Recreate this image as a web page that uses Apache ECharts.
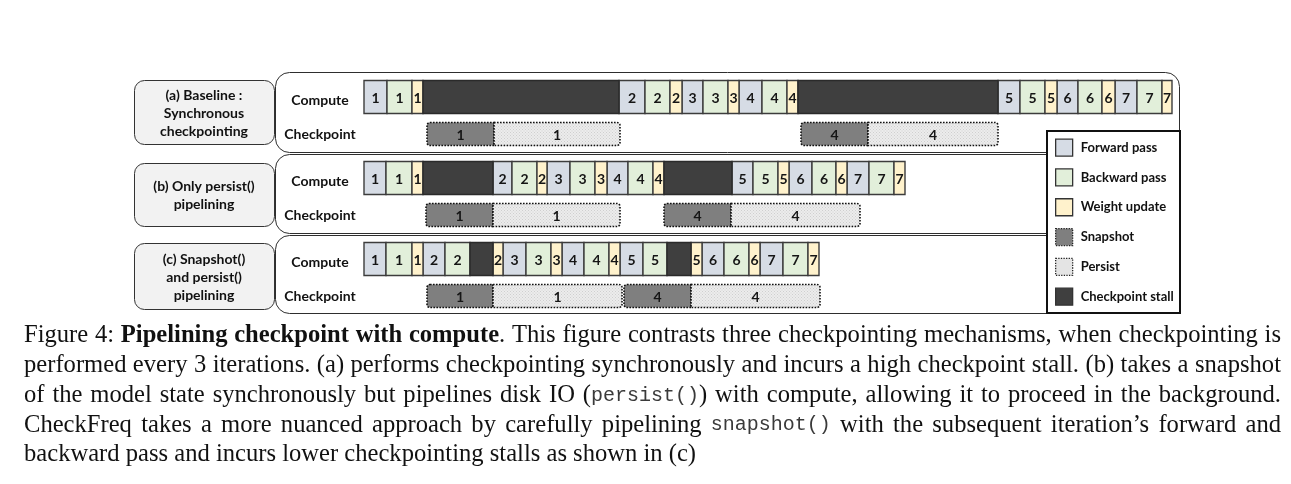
<!DOCTYPE html>
<html>
<head>
<meta charset="utf-8">
<script src="https://cdn.jsdelivr.net/npm/echarts@6/dist/echarts.min.js"></script>
<style>
html,body{margin:0;padding:0;background:#fff}
#container{width:1291px;height:484px}
</style>
</head>
<body>
<div id="container"></div>
<script>
var rowNames = ['Compute', 'Checkpoint'];
var kindOrder = ['F', 'B', 'W', 'S', 'P', 'X'];
var kindNames = {F: 'Forward pass', B: 'Backward pass', W: 'Weight update', S: 'Snapshot', P: 'Persist', X: 'Checkpoint stall'};
var panelTitles = ['(a) Baseline :\nSynchronous\ncheckpointing', '(b) Only persist()\npipelining', '(c) Snapshot()\nand persist()\npipelining'];

// [start, end, kind, iteration]  time units, 0 = start of iteration 1
var baselineCompute = [
    [0, 23, 'F', 1], [23, 48, 'B', 1], [48, 59, 'W', 1], [59, 255, 'X', 0],
    [255, 281, 'F', 2], [281, 306, 'B', 2], [306, 318, 'W', 2],
    [318, 339, 'F', 3], [339, 364, 'B', 3], [364, 375, 'W', 3],
    [375, 398, 'F', 4], [398, 423, 'B', 4], [423, 434, 'W', 4], [434, 634, 'X', 0],
    [634, 656, 'F', 5], [656, 681, 'B', 5], [681, 693, 'W', 5],
    [693, 714, 'F', 6], [714, 738, 'B', 6], [738, 751, 'W', 6],
    [751, 773, 'F', 7], [773, 798, 'B', 7], [798, 808, 'W', 7]
];
var baselineCheckpoint = [[63, 130, 'S', 1], [130, 256, 'P', 1], [437, 504, 'S', 4], [504, 634, 'P', 4]];

var persistCompute = [
    [0, 22, 'F', 1], [22, 48, 'B', 1], [48, 59, 'W', 1], [59, 129, 'X', 0],
    [129, 148, 'F', 2], [148, 173, 'B', 2], [173, 183, 'W', 2],
    [183, 206, 'F', 3], [206, 231, 'B', 3], [231, 243, 'W', 3],
    [243, 264, 'F', 4], [264, 289, 'B', 4], [289, 300, 'W', 4], [300, 368, 'X', 0],
    [368, 389, 'F', 5], [389, 414, 'B', 5], [414, 425, 'W', 5],
    [425, 448, 'F', 6], [448, 472, 'B', 6], [472, 483, 'W', 6],
    [483, 505, 'F', 7], [505, 530, 'B', 7], [530, 541, 'W', 7]
];
var persistCheckpoint = [[62, 129, 'S', 1], [129, 256, 'P', 1], [300, 367, 'S', 4], [367, 496, 'P', 4]];

var snapshotCompute = [
    [0, 22, 'F', 1], [22, 48, 'B', 1], [48, 59, 'W', 1],
    [59, 81, 'F', 2], [81, 106, 'B', 2], [106, 129, 'X', 0], [129, 139, 'W', 2],
    [139, 162, 'F', 3], [162, 187, 'B', 3], [187, 198, 'W', 3],
    [198, 220, 'F', 4], [220, 245, 'B', 4], [245, 256, 'W', 4],
    [256, 279, 'F', 5], [279, 303, 'B', 5], [303, 327, 'X', 0], [327, 338, 'W', 5],
    [338, 360, 'F', 6], [360, 385, 'B', 6], [385, 396, 'W', 6],
    [396, 419, 'F', 7], [419, 444, 'B', 7], [444, 455, 'W', 7]
];
var snapshotCheckpoint = [[63, 129, 'S', 1], [129, 258, 'P', 1], [260, 327, 'S', 4], [327, 456, 'P', 4]];

var captionLines = [
    [['Figure 4: ', 'n'], ['Pipelining checkpoint with compute', 'b'], ['. This figure contrasts three checkpointing mechanisms, when checkpointing is', 'n']],
    [['performed every 3 iterations. (a) performs checkpointing synchronously and incurs a high checkpoint stall. (b) takes a snapshot', 'n']],
    [['of the model state synchronously but pipelines disk IO (', 'n'], ['persist()', 'm'], [') with compute, allowing it to proceed in the background.', 'n']],
    [['CheckFreq takes a more nuanced approach by carefully pipelining ', 'n'], ['snapshot()', 'm'], [' with the subsequent iteration\u2019s forward and', 'n']],
    [['backward pass and incurs lower checkpointing stalls as shown in (c)', 'n']]
];

var panels = [
    {compute: baselineCompute, checkpoint: baselineCheckpoint},
    {compute: persistCompute, checkpoint: persistCheckpoint},
    {compute: snapshotCompute, checkpoint: snapshotCheckpoint}
];

// light dotted texture for the persist boxes
var dotCanvas = document.createElement('canvas');
dotCanvas.width = 3; dotCanvas.height = 3;
var dctx = dotCanvas.getContext('2d');
dctx.fillStyle = '#ececec'; dctx.fillRect(0, 0, 3, 3);
dctx.fillStyle = '#cfcfcf'; dctx.fillRect(0, 0, 1, 1); dctx.fillRect(1.5, 1.5, 1, 1);

var kindStyle = {
    F: {fill: '#d6dce5', stroke: '#3c3c3c', lineWidth: 1.4},
    B: {fill: '#e2efda', stroke: '#3c3c3c', lineWidth: 1.4},
    W: {fill: '#fff2cc', stroke: '#3c3c3c', lineWidth: 1.4},
    X: {fill: '#3f3f3f', stroke: '#2a2a2a', lineWidth: 1.4},
    S: {fill: '#7f7f7f', stroke: '#111', lineWidth: 1.6, lineDash: [1.6, 1.4]},
    P: {fill: {image: dotCanvas, repeat: 'repeat'}, stroke: '#111', lineWidth: 1.6, lineDash: [1.6, 1.4]}
};
var legendFill = {F: '#d6dce5', B: '#e2efda', W: '#fff2cc', S: '#7f7f7f', P: '#e4e4e4', X: '#3f3f3f'};

var gridTops = [78.5, 159.5, 240.5];

function makeRender(kind) {
    return function (params, api) {
        var row = api.value(0);
        var a = api.coord([api.value(1), row]);
        var b = api.coord([api.value(2), row]);
        var h = row === 0 ? 33 : 23;
        var st = kindStyle[kind];
        var r = kind === 'S' ? [3, 0, 0, 3] : (kind === 'P' ? [0, 3, 3, 0] : 0);
        var children = [{
            type: 'rect',
            shape: {x: a[0], y: a[1] - h / 2, width: b[0] - a[0], height: h, r: r},
            style: {fill: st.fill, stroke: st.stroke, lineWidth: st.lineWidth, lineDash: st.lineDash || null}
        }];
        if (kind !== 'X') {
            children.push({
                type: 'text',
                style: {
                    text: String(api.value(3)), x: (a[0] + b[0]) / 2, y: a[1] + 1,
                    align: 'center', verticalAlign: 'middle',
                    font: 'bold 14px Lato', fill: '#151515'
                }
            });
        }
        return {type: 'group', children: children};
    };
}

var grids = [], xAxes = [], yAxes = [], series = [];
panels.forEach(function (p, i) {
    grids.push({left: 364, width: 816, top: gridTops[i], height: 74});
    xAxes.push({type: 'value', gridIndex: i, min: 0, max: 816, show: false});
    yAxes.push({
        type: 'category', gridIndex: i, inverse: true, data: rowNames,
        axisLine: {show: false}, axisTick: {show: false}, splitLine: {show: false},
        axisLabel: {
            align: 'center', margin: 44, fontFamily: 'Lato', fontWeight: 'bold', fontSize: 14, color: '#111',
            formatter: function (v) { return v === rowNames[0] ? '{c|' + v + '}' : v; },
            rich: {c: {fontFamily: 'Lato', fontWeight: 'bold', fontSize: 14, color: '#111', padding: [6, 0, 0, 0]}}
        }
    });
    kindOrder.forEach(function (k) {
        var data = [];
        p.compute.forEach(function (d) { if (d[2] === k) data.push([0, d[0], d[1], d[3]]); });
        p.checkpoint.forEach(function (d) { if (d[2] === k) data.push([1, d[0], d[1], d[3]]); });
        series.push({
            type: 'custom', name: kindNames[k], xAxisIndex: i, yAxisIndex: i,
            encode: {x: [1, 2], y: 0}, silent: true, z: 3,
            itemStyle: {color: legendFill[k]},
            renderItem: makeRender(k), data: data
        });
    });
});

// panels and boxes
var graphics = [
    {type: 'rect', z: 0, shape: {x: 275.5, y: 72.5, width: 904, height: 80, r: 14}, style: {fill: '#fff', stroke: '#2e2e2e', lineWidth: 1}},
    {type: 'rect', z: 0, shape: {x: 275.5, y: 154.5, width: 825, height: 79, r: 14}, style: {fill: '#fff', stroke: '#2e2e2e', lineWidth: 1}},
    {type: 'rect', z: 0, shape: {x: 275.5, y: 235.5, width: 825, height: 78, r: 14}, style: {fill: '#fff', stroke: '#2e2e2e', lineWidth: 1}}
];
var leftBoxes = [[80, 64], [163, 63], [243, 66]];
leftBoxes.forEach(function (bx, i) {
    graphics.push({type: 'rect', z: 0, shape: {x: 134.5, y: bx[0] + 0.5, width: 140, height: bx[1], r: 10},
        style: {fill: '#f2f2f2', stroke: '#333', lineWidth: 1}});
    graphics.push({type: 'text', z: 1, x: 204, y: bx[0] + bx[1] / 2 + 1,
        style: {text: panelTitles[i], align: 'center', verticalAlign: 'middle', font: 'bold 14px Lato', lineHeight: 18, fill: '#111'}});
});
graphics.push({type: 'rect', z: 50, shape: {x: 1047, y: 131, width: 133, height: 182},
    style: {fill: '#fff', stroke: '#111', lineWidth: 2}});

// justified caption
var mctx = document.createElement('canvas').getContext('2d');
function fontFor(s, fs) {
    if (s === 'b') return 'bold ' + fs + 'px "Liberation Serif"';
    if (s === 'm') return Math.round(fs * 0.8) + 'px "Liberation Mono"';
    return fs + 'px "Liberation Serif"';
}
function measure(t, s, fs) { mctx.font = fontFor(s, fs); return mctx.measureText(t).width; }
var lastText = captionLines[4][0][0];
var capFs = Math.round(20 * 672 / measure(lastText, 'n', 20) * 10) / 10;
var capLeft = 24, capRight = 1281, capTop = 336, capStep = 29.7;
captionLines.forEach(function (line, li) {
    var words = [[]];
    line.forEach(function (seg) {
        seg[0].split(' ').forEach(function (part, j) {
            if (j > 0) words.push([]);
            if (part) words[words.length - 1].push([part, seg[1]]);
        });
    });
    words = words.filter(function (w) { return w.length; });
    var widths = words.map(function (w) {
        return w.reduce(function (acc, pc) { return acc + measure(pc[0], pc[1], capFs); }, 0);
    });
    var total = widths.reduce(function (a, b) { return a + b; }, 0);
    var last = li === captionLines.length - 1;
    var gap = last ? measure(' ', 'n', capFs) : (capRight - capLeft - total) / (words.length - 1);
    var x = capLeft, y = capTop + li * capStep;
    words.forEach(function (w, wi) {
        var px = x;
        w.forEach(function (pc) {
            graphics.push({type: 'text', z: 1, x: px, y: y,
                style: {text: pc[0], font: fontFor(pc[1], capFs), fill: pc[1] === 'm' ? '#3a3a3a' : '#111', align: 'left', verticalAlign: 'middle'}});
            px += measure(pc[0], pc[1], capFs);
        });
        x += widths[wi] + gap;
    });
});

var myChart = echarts.init(document.getElementById('container'));
var option = {
    backgroundColor: '#fff',
    animation: false,
    grid: grids,
    xAxis: xAxes,
    yAxis: yAxes,
    graphic: {elements: graphics},
    legend: {
        orient: 'vertical', left: 1050, top: 133.5, z: 60,
        itemWidth: 17, itemHeight: 17, itemGap: 11.5, selectedMode: false,
        textStyle: {fontFamily: 'Lato', fontWeight: 'bold', fontSize: 13, color: '#111', padding: [0, 0, 0, 3]},
        data: kindOrder.map(function (k) {
            var dotted = k === 'S' || k === 'P';
            return {
                name: kindNames[k], icon: 'rect',
                itemStyle: {color: legendFill[k], borderColor: dotted ? '#222' : '#333', borderWidth: 1.3, borderType: dotted ? 'dotted' : 'solid'}
            };
        })
    },
    series: series
};
myChart.setOption(option, true);
</script>
</body>
</html>
